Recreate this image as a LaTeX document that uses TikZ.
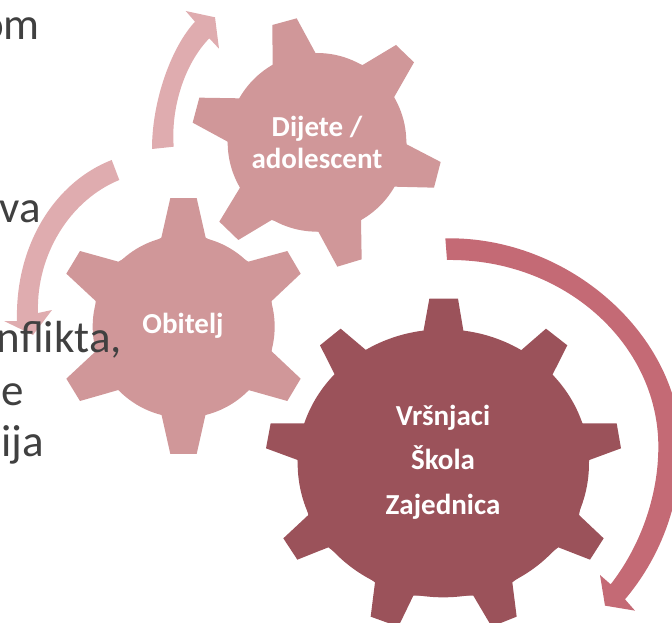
\documentclass[tikz,border=0pt]{standalone}
\usepackage{fontspec}
\setmainfont{Carlito}
\definecolor{gearlight}{HTML}{D09799}
\definecolor{geardark}{HTML}{9B525A}
\definecolor{arrowlight}{HTML}{DFACAF}
\definecolor{arrowdark}{HTML}{C46A75}
\definecolor{bodytext}{HTML}{404040}
\tikzset{
  geartext/.style={text=white,font=\bfseries\fontsize{29}{32}\selectfont,align=center,inner sep=0pt},
  gearline/.style={geartext,anchor=base},
  bodyline/.style={text=bodytext,font=\fontsize{45}{50}\selectfont,anchor=base east,inner sep=0pt},
}
\begin{document}
\begin{tikzpicture}[x=1pt,y=-1pt]
\useasboundingbox (0,0) rectangle (672,623);
\clip (0,0) rectangle (672,623);
% arrows
\fill[arrowlight] (152,149) .. controls (152,100) and (171.7,46.7) .. (195,21.7)
  -- (185.7,11) -- (215,17.3) -- (219,48.7) -- (209.3,38.3)
  .. controls (185,63.3) and (170.7,106.7) .. (173.7,146.7) -- cycle;
\fill[arrowlight] (111.7,160) .. controls (55,182) and (15,245) .. (17,321)
  -- (4,321) -- (33,335) -- (52,310) -- (38,313)
  .. controls (36,255) and (70,200) .. (119.3,180) -- cycle;
\begin{scope}[shift={(260,230)},scale=1/3]
\fill[arrowdark] (556,25) .. controls (930,18) and (1262,320) .. (1262,650)
  .. controls (1262,830) and (1195,990) .. (1095,1108)
  -- (1125,1142) -- (1035,1127) -- (1020,1035) -- (1052,1063)
  .. controls (1140,950) and (1195,800) .. (1195,650)
  .. controls (1195,340) and (910,85) .. (561,90) -- cycle;
% big gear
\fill[geardark] (550,700) ellipse [x radius=437,y radius=402];
\fill[geardark] (490,305)--(508,206)--(594,206)--(611,307)
  --(782,362)--(858,296)--(922,346)--(877,435)
  --(967,580)--(1070,580)--(1083,655)--(988,690)
  --(957,855)--(1031,925)--(990,989)--(895,952)
  --(757,1057)--(770,1160)--(695,1190)--(640,1097)
  --(460,1097)--(415,1190)--(332,1160)--(345,1057)
  --(205,952)--(112,989)--(70,925)--(145,855)
  --(113,690)--(18,655)--(32,580)--(135,580)
  --(225,435)--(180,346)--(242,296)--(320,362)--cycle;
\end{scope}
% medium gear
\begin{scope}[shift={(0,190)},scale=1/3]
\fill[gearlight] (551,410) circle [radius=273];
\fill[gearlight] (484,143)--(511,24)--(590,24)--(617,143)
  --(745,215)--(862,183)--(902,251)--(815,333)
  --(815,484)--(902,566)--(862,633)--(745,600)
  --(617,672)--(590,792)--(511,792)--(484,672)
  --(355,600)--(240,633)--(199,566)--(287,484)
  --(287,333)--(199,251)--(240,183)--(355,215)--cycle;
\end{scope}
% small gear
\begin{scope}[shift={(180,10)},scale=1/3]
\fill[gearlight] (411,397) circle [radius=268];
\fill[gearlight] (278,165)--(277,45)--(350,25)--(407,130)
  --(548,165)--(648,105)--(702,157)--(642,262)
  --(680,403)--(782,456)--(762,533)--(642,530)
  --(543,630)--(545,748)--(472,770)--(415,665)
  --(275,630)--(175,690)--(118,635)--(180,533)
  --(143,395)--(38,338)--(58,263)--(180,265)--cycle;
\end{scope}
% texts
\node[bodyline] (t1) at (40,40) {om};
\node[bodyline] (t2) at (41,222) {va};
\node[bodyline] (t3) at (122,352) {nflikta,};
\node[bodyline] (t4) at (24,405) {e};
\node[bodyline] (t5) at (44,456) {ija};
\node[geartext] (g1) at (317,142) {Dijete /\\adolescent};
\node[gearline] (g2) at (183,333) {Obitelj};
\node[gearline] (g3a) at (443,425) {Vršnjaci};
\node[gearline] (g3b) at (443,469) {Škola};
\node[gearline] (g3c) at (443,514) {Zajednica};
\end{tikzpicture}
\end{document}
